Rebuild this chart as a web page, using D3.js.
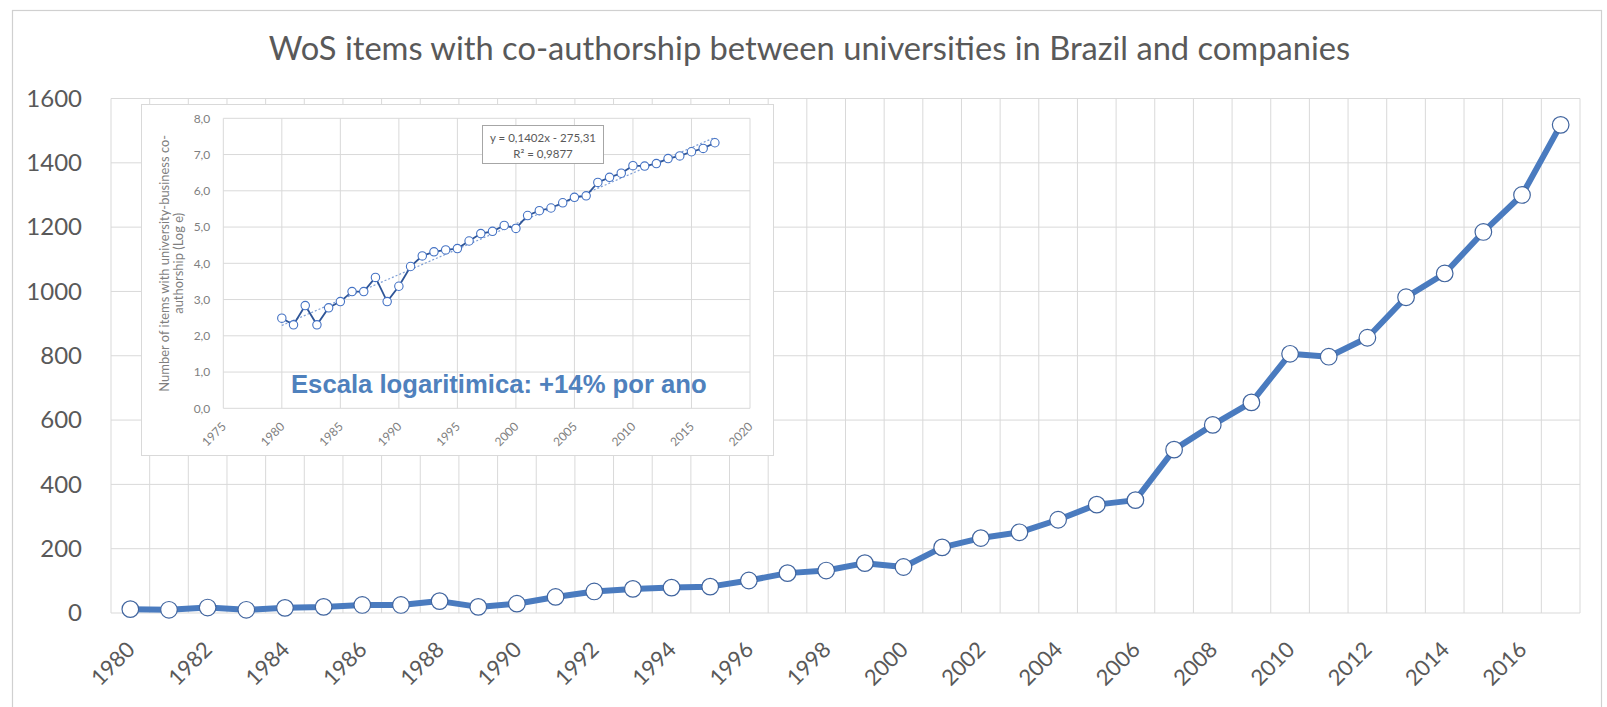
<!DOCTYPE html>
<html><head><meta charset="utf-8">
<script src="https://cdn.jsdelivr.net/npm/d3@7"></script>
<style>html,body{margin:0;padding:0;background:#fff;} svg{display:block;}</style>
</head><body>
<svg id="c" width="1607" height="707"></svg>
<script>
// ---------- DATA ----------
const chartTitle = "WoS items with co-authorship between universities in Brazil and companies";
const years = [1980,1981,1982,1983,1984,1985,1986,1987,1988,1989,
               1990,1991,1992,1993,1994,1995,1996,1997,1998,1999,
               2000,2001,2002,2003,2004,2005,2006,2007,2008,2009,
               2010,2011,2012,2013,2014,2015,2016,2017];
const counts = [12,10,17,10,16,19,25,25,37,19,
                29,50,67,75,79,82,101,124,132,155,
                143,204,233,251,290,337,351,508,585,655,
                806,797,856,982,1056,1185,1300,1518];
const yTicks = [0,200,400,600,800,1000,1200,1400,1600];
const xLabelYears = [1980,1982,1984,1986,1988,1990,1992,1994,1996,1998,
                     2000,2002,2004,2006,2008,2010,2012,2014,2016];
const insetYTicks = [0,1,2,3,4,5,6,7,8];
const insetXTicks = [1975,1980,1985,1990,1995,2000,2005,2010,2015,2020];
const trendSlope = 0.1402, trendIntercept = -275.31;
const trendRange = [1980, 2017];
const trendLabel = ["y = 0,1402x - 275,31", "R² = 0,9877"];
const insetYTitle = ["Number of items with university-business co-", "authorship (Log e)"];
const noteText = "Escala logaritimica: +14% por ano";

// ---------- SETUP ----------
const W = 1607, H = 707;
const svg = d3.select("#c");
svg.append("rect").attr("width", W).attr("height", H).attr("fill", "#fff");
svg.append("rect").attr("x", 12.5).attr("y", 10.5).attr("width", 1589).attr("height", 760)
   .attr("fill", "none").attr("stroke", "#d0d0d0").attr("stroke-width", 1.2);

function fitWidth(sel, target) {
  const w = sel.node().getComputedTextLength();
  const fs = parseFloat(sel.attr("font-size"));
  sel.attr("font-size", fs * target / w);
  return fs * target / w;
}

// title
const t = svg.append("text").text(chartTitle)
  .attr("x", 809.5).attr("y", 60).attr("text-anchor", "middle")
  .attr("font-family", "Lato, 'Open Sans', sans-serif").attr("font-size", 32)
  .attr("fill", "#595959");
fitWidth(t, 1082);

// ---------- MAIN CHART ----------
const M = {l: 111, r: 1580, t: 98.5, b: 613};
const x = d3.scaleBand().domain(years).range([M.l, M.r]).padding(0);
const y = d3.scaleLinear().domain([0, 1600]).range([M.b, M.t]);
const bw = x.bandwidth();

const grid = svg.append("g").attr("stroke", "#d9d9d9").attr("stroke-width", 1);
yTicks.forEach(v => grid.append("line")
  .attr("x1", M.l).attr("x2", M.r).attr("y1", y(v)).attr("y2", y(v)));
years.forEach(yr => grid.append("line")
  .attr("x1", x(yr)).attr("x2", x(yr)).attr("y1", M.t).attr("y2", M.b));
grid.append("line").attr("x1", M.r).attr("x2", M.r).attr("y1", M.t).attr("y2", M.b);

const yAxis = svg.append("g").attr("transform", `translate(${M.l},0)`)
  .call(d3.axisLeft(y).tickValues(yTicks).tickSize(0).tickPadding(29).tickFormat(d3.format("d")));
yAxis.select(".domain").remove();
yAxis.selectAll("text").attr("font-family", "Lato, sans-serif").attr("font-size", 24)
  .attr("fill", "#595959");

const xAxis = svg.append("g").attr("transform", `translate(0,${M.b})`)
  .call(d3.axisBottom(x).tickValues(xLabelYears).tickSize(0));
xAxis.select(".domain").remove();
xAxis.selectAll("text").attr("font-family", "Lato, sans-serif").attr("font-size", 22)
  .attr("fill", "#595959").attr("text-anchor", "end")
  .attr("x", 6).attr("y", 38).attr("dy", 0)
  .attr("transform", "rotate(-45,6,38)");

const series = years.map((yr, i) => ({year: yr, v: counts[i]}));
svg.append("path").datum(series)
  .attr("d", d3.line().x(d => x(d.year) + bw / 2).y(d => y(d.v)))
  .attr("fill", "none").attr("stroke", "#4a7bbf").attr("stroke-width", 6)
  .attr("stroke-linejoin", "round");
svg.append("g").selectAll("circle").data(series).join("circle")
  .attr("cx", d => x(d.year) + bw / 2).attr("cy", d => y(d.v)).attr("r", 8.3)
  .attr("fill", "#fff").attr("stroke", "#41659f").attr("stroke-width", 1.2);

// ---------- INSET ----------
const g = svg.append("g");
g.append("rect").attr("x", 141.5).attr("y", 104.5).attr("width", 632).attr("height", 351)
  .attr("fill", "#fff").attr("stroke", "#d9d9d9");

const I = {l: 223.3, r: 750, t: 118.3, b: 408.3};
const ix = d3.scaleLinear().domain([1975, 2020]).range([I.l, I.r]);
const iy = d3.scaleLinear().domain([0, 8]).range([I.b, I.t]);

const ig = g.append("g").attr("stroke", "#d9d9d9").attr("stroke-width", 1);
insetYTicks.forEach(v => ig.append("line")
  .attr("x1", I.l).attr("x2", I.r).attr("y1", iy(v)).attr("y2", iy(v)));
insetXTicks.forEach(v => ig.append("line")
  .attr("x1", ix(v)).attr("x2", ix(v)).attr("y1", I.t).attr("y2", I.b));

const iyAxis = g.append("g").attr("transform", `translate(${I.l},0)`)
  .call(d3.axisLeft(iy).tickValues(insetYTicks).tickSize(0).tickPadding(13)
    .tickFormat(d => d3.format(".1f")(d).replace(".", ",")));
iyAxis.select(".domain").remove();
iyAxis.selectAll("text").attr("font-family", "Lato, sans-serif").attr("font-size", 12)
  .attr("fill", "#7f7f7f");

const ixAxis = g.append("g").attr("transform", `translate(0,${I.b})`)
  .call(d3.axisBottom(ix).tickValues(insetXTicks).tickSize(0).tickFormat(d3.format("d")));
ixAxis.select(".domain").remove();
ixAxis.selectAll("text").attr("font-family", "Lato, sans-serif").attr("font-size", 12)
  .attr("fill", "#7f7f7f").attr("text-anchor", "end")
  .attr("x", 3).attr("y", 19).attr("dy", 0)
  .attr("transform", "rotate(-45,3,19)");

// inset y title
const cy = (I.t + I.b) / 2;
const l1 = g.append("text").text(insetYTitle[0])
  .attr("font-family", "Lato, sans-serif").attr("font-size", 12).attr("fill", "#7f7f7f")
  .attr("text-anchor", "middle").attr("x", 0).attr("y", 0)
  .attr("transform", `translate(169,${cy}) rotate(-90)`);
const fs1 = fitWidth(l1, 257);
g.append("text").text(insetYTitle[1])
  .attr("font-family", "Lato, sans-serif").attr("font-size", fs1).attr("fill", "#7f7f7f")
  .attr("text-anchor", "middle").attr("x", 0).attr("y", 0)
  .attr("transform", `translate(183,${cy}) rotate(-90)`);

// trend line
const trendPts = trendRange.map(yr => ({year: yr, v: trendSlope * yr + trendIntercept}));
g.append("path").datum(trendPts)
  .attr("d", d3.line().x(d => ix(d.year)).y(d => iy(d.v)))
  .attr("fill", "none").attr("stroke", "#7f9fd6").attr("stroke-width", 1.2)
  .attr("stroke-dasharray", "2,2");

// log series
const logSeries = years.map((yr, i) => ({year: yr, v: Math.log(counts[i])}));
g.append("path").datum(logSeries)
  .attr("d", d3.line().x(d => ix(d.year)).y(d => iy(d.v)))
  .attr("fill", "none").attr("stroke", "#2f5597").attr("stroke-width", 1.8);
g.append("g").selectAll("circle").data(logSeries).join("circle")
  .attr("cx", d => ix(d.year)).attr("cy", d => iy(d.v)).attr("r", 4.2)
  .attr("fill", "#fff").attr("stroke", "#4472c4").attr("stroke-width", 1.1);

// equation box
g.append("rect").attr("x", 482.5).attr("y", 125.5).attr("width", 121).attr("height", 38)
  .attr("fill", "#fff").attr("stroke", "#a6a6a6");
trendLabel.forEach((s, i) => g.append("text").text(s)
  .attr("x", 543).attr("y", 142 + i * 16).attr("text-anchor", "middle")
  .attr("font-family", "Lato, sans-serif").attr("font-size", 11.5).attr("fill", "#595959"));

// note
const note = g.append("text").text(noteText)
  .attr("x", 291).attr("y", 393)
  .attr("font-family", "'Liberation Sans', Arial, sans-serif").attr("font-weight", "bold")
  .attr("font-size", 24).attr("fill", "#4f81bd");
fitWidth(note, 416);
</script>
</body></html>
